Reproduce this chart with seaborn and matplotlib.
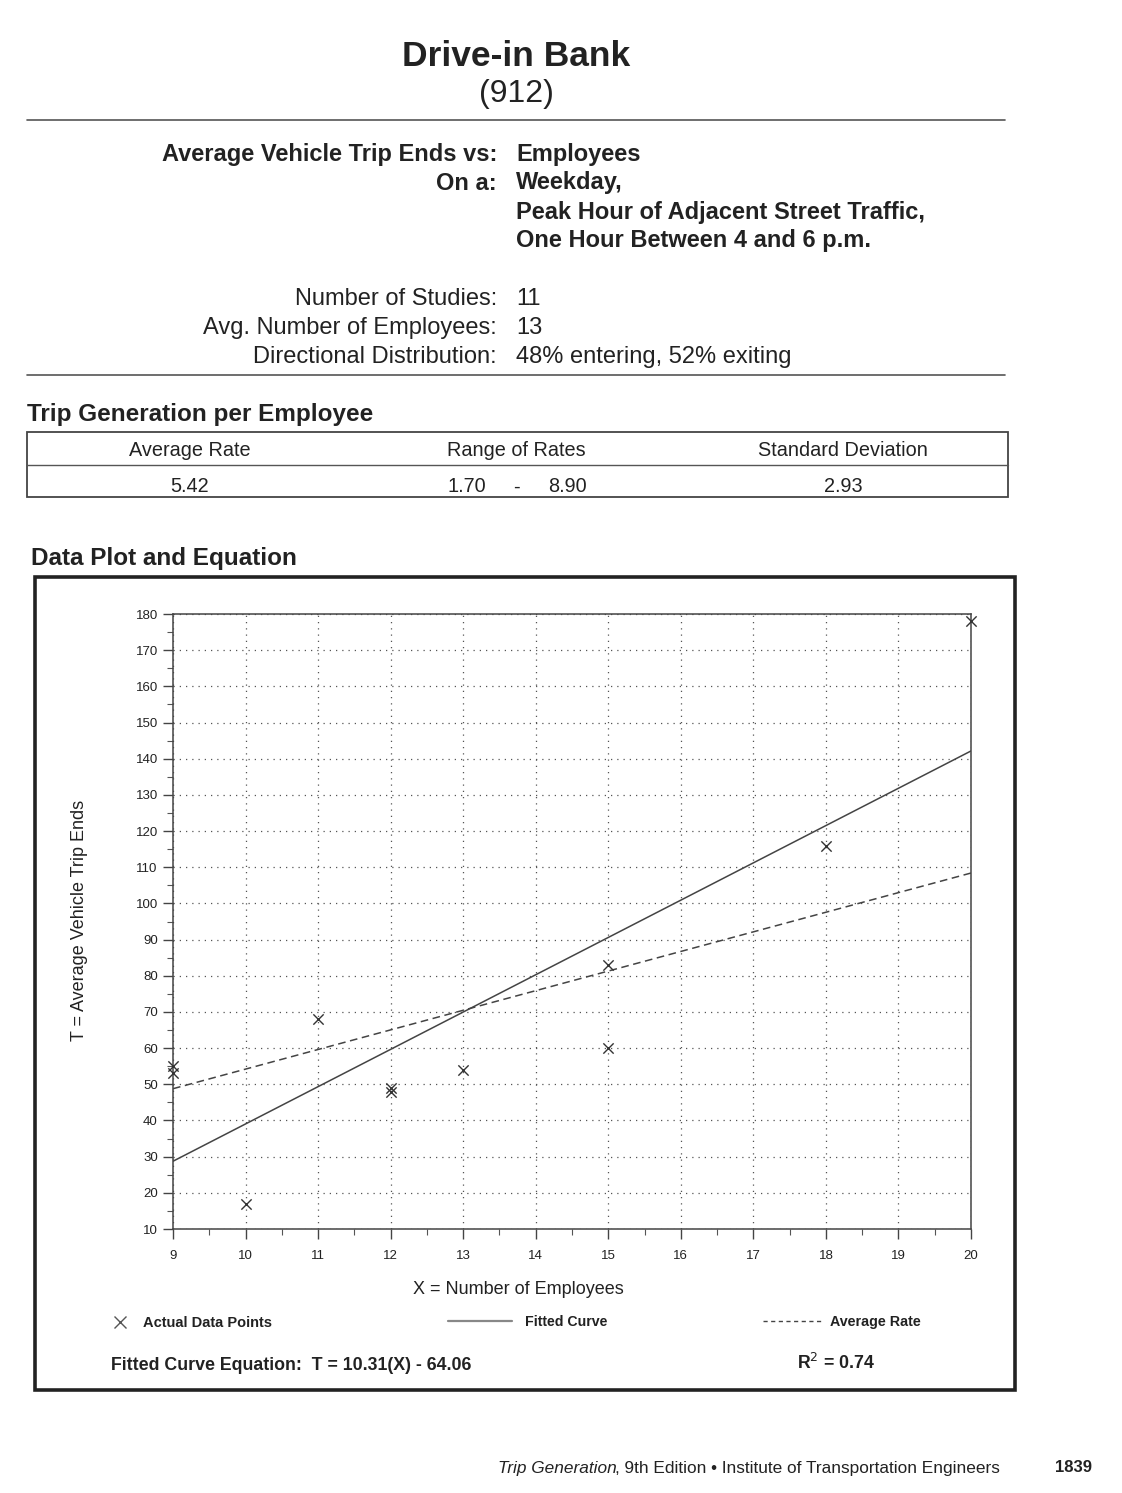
import matplotlib
matplotlib.use("Agg")
import matplotlib.pyplot as plt
from matplotlib.lines import Line2D
from matplotlib.patches import Rectangle
from matplotlib.ticker import MultipleLocator
import numpy as np
import pandas as pd
import seaborn as sns

# Study data: employees (X) and average vehicle trip ends (T)
employees = [9, 9, 10, 11, 12, 12, 13, 15, 15, 18, 20]
trip_ends = [53, 55, 17, 68, 48, 49, 54, 83, 60, 116, 178]

# Summary statistics
average_rate = 5.42
rate_range = (1.70, 8.90)
std_dev = 2.93
fit_slope = 10.31
fit_intercept = -64.06
r_squared = 0.74

x_ticks = list(range(9, 21))
y_ticks = list(range(10, 181, 10))

W, H = 1122, 1493
sns.set_theme(style="white")
FONT = ["Liberation Sans Narrow", "Liberation Sans", "DejaVu Sans"]
plt.rcParams["font.family"] = FONT
INK = "#222222"

fig = plt.figure(figsize=(W / 100, H / 100), dpi=100)
fig.patch.set_facecolor("white")


def fx(x):
    return x / W


def fy(y):
    return 1 - y / H


def txt(x, y, s, size, weight="normal", ha="left", style="normal", **kw):
    fig.text(fx(x), fy(y), s, fontsize=size, fontweight=weight, ha=ha,
             va="center", color=INK, style=style, **kw)


def hline(x0, x1, y, lw=1.2, color="#555555"):
    fig.add_artist(Line2D([fx(x0), fx(x1)], [fy(y), fy(y)], lw=lw, color=color,
                          transform=fig.transFigure))


# Header
txt(516, 57, "Drive-in Bank", 25.5, "bold", ha="center")
txt(516, 94, "(912)", 23, ha="center")
hline(27, 1005, 120)

HS = 17
txt(497, 154, "Average Vehicle Trip Ends vs:", HS, "bold", ha="right")
txt(516, 154, "Employees", HS, "bold")
txt(497, 183, "On a:", HS, "bold", ha="right")
txt(516, 183, "Weekday,", HS, "bold")
txt(516, 212, "Peak Hour of Adjacent Street Traffic,", HS, "bold")
txt(516, 241, "One Hour Between 4 and 6 p.m.", HS, "bold")

txt(497, 299, "Number of Studies:", HS, ha="right")
txt(516, 299, f"{len(employees)}", HS)
txt(497, 328, "Avg. Number of Employees:", HS, ha="right")
txt(516, 328, f"{round(np.mean(employees)):.0f}", HS)
txt(497, 357, "Directional Distribution:", HS, ha="right")
txt(516, 357, "48% entering, 52% exiting", HS)
hline(27, 1005, 375)

# Rate table
txt(27, 415, "Trip Generation per Employee", 17.5, "bold")
fig.add_artist(Rectangle((fx(27), fy(497)), fx(1008 - 27), (497 - 432) / H,
                         fill=False, lw=1.3, edgecolor="#444444",
                         transform=fig.transFigure))
hline(27, 1008, 465, lw=1.0)
TS = 14.3
txt(190, 451, "Average Rate", TS, ha="center")
txt(516, 451, "Range of Rates", TS, ha="center")
txt(843, 451, "Standard Deviation", TS, ha="center")
txt(190, 487, f"{average_rate:.2f}", TS, ha="center")
txt(467, 487, f"{rate_range[0]:.2f}", TS, ha="center")
txt(516, 487, "-", TS, ha="center")
txt(567, 487, f"{rate_range[1]:.2f}", TS, ha="center")
txt(843, 487, f"{std_dev:.2f}", TS, ha="center")

# Plot frame
txt(31, 559, "Data Plot and Equation", 17.5, "bold")
fig.add_artist(Rectangle((fx(35), fy(1390)), fx(1015 - 35), (1390 - 577) / H,
                         fill=False, lw=2.6, edgecolor="#222222",
                         transform=fig.transFigure))

# Scatter and lines
ax = fig.add_axes([fx(173), fy(1229), fx(971 - 173), (1229 - 614) / H])
df = pd.DataFrame({"X": employees, "T": trip_ends})
line_x = np.array([min(x_ticks), max(x_ticks)], dtype=float)
lines = pd.DataFrame({
    "X": np.concatenate([line_x, line_x]),
    "T": np.concatenate([fit_slope * line_x + fit_intercept, average_rate * line_x]),
    "kind": ["Fitted Curve"] * 2 + ["Average Rate"] * 2,
})

sns.lineplot(data=lines[lines.kind == "Fitted Curve"], x="X", y="T", ax=ax,
             color="#444444", lw=1.1, legend=False)
sns.lineplot(data=lines[lines.kind == "Average Rate"], x="X", y="T", ax=ax,
             color="#444444", lw=1.1, linestyle=(0, (5, 3)), legend=False)
sns.scatterplot(data=df, x="X", y="T", ax=ax, marker="x", s=55, color="#333333",
                linewidth=1.0, legend=False, zorder=5, clip_on=False)

ax.set_xlim(9, 20)
ax.set_ylim(10, 180)
ax.set_xticks(x_ticks)
ax.set_yticks(y_ticks)
ax.xaxis.set_minor_locator(MultipleLocator(0.5))
ax.yaxis.set_minor_locator(MultipleLocator(5))
ax.tick_params(axis="both", which="major", direction="out", length=7, width=1,
               color="#444444", labelsize=9.5, labelcolor=INK, bottom=True, left=True)
ax.tick_params(axis="both", which="minor", direction="out", length=4, width=0.8,
               color="#555555", bottom=True, left=True)
ax.tick_params(axis="x", which="major", pad=8)
ax.tick_params(axis="y", which="major", pad=4)
ax.grid(True, which="major", linestyle=(0, (1, 4)), color="#555555", lw=0.9)
for side in ["left", "bottom", "top", "right"]:
    ax.spines[side].set_visible(True)
    ax.spines[side].set_color("#444444")
    ax.spines[side].set_linewidth(1.1)
ax.set_xlabel("")
ax.set_ylabel("")
ax.set_facecolor("white")

txt(518, 1290, "X = Number of Employees", 13, ha="center")
fig.text(fx(80), fy(920), "T = Average Vehicle Trip Ends", fontsize=13,
         rotation=90, ha="center", va="center", color=INK)

# Legend row
fig.add_artist(Line2D([fx(120)], [fy(1322)], marker="x", markersize=9, mew=1.0,
                      color="#555555", linestyle="none", transform=fig.transFigure))
txt(143, 1323, "Actual Data Points", 10.5, "bold")
hline(448, 512, 1321, lw=1.6, color="#888888")
txt(525, 1322, "Fitted Curve", 10.2, "bold")
fig.add_artist(Line2D([fx(763), fx(822)], [fy(1321), fy(1321)], lw=1.0,
                      color="#444444", linestyle=(0, (3, 2.5)),
                      transform=fig.transFigure))
txt(830, 1322, "Average Rate", 10.3, "bold")

txt(111, 1366, f"Fitted Curve Equation:  T = {fit_slope:.2f}(X) - {abs(fit_intercept):.2f}",
    12.8, "bold")
txt(797, 1363, f"R$^2$ = {r_squared:.2f}", 12.8, "bold")

# Footer
txt(498, 1468, "Trip Generation", 12.4, style="italic")
txt(615, 1468, ", 9th Edition \u2022 Institute of Transportation Engineers", 12.4)
txt(1055, 1467, "1839", 12, "bold")

fig.savefig("out.png", dpi=100, facecolor="white")
